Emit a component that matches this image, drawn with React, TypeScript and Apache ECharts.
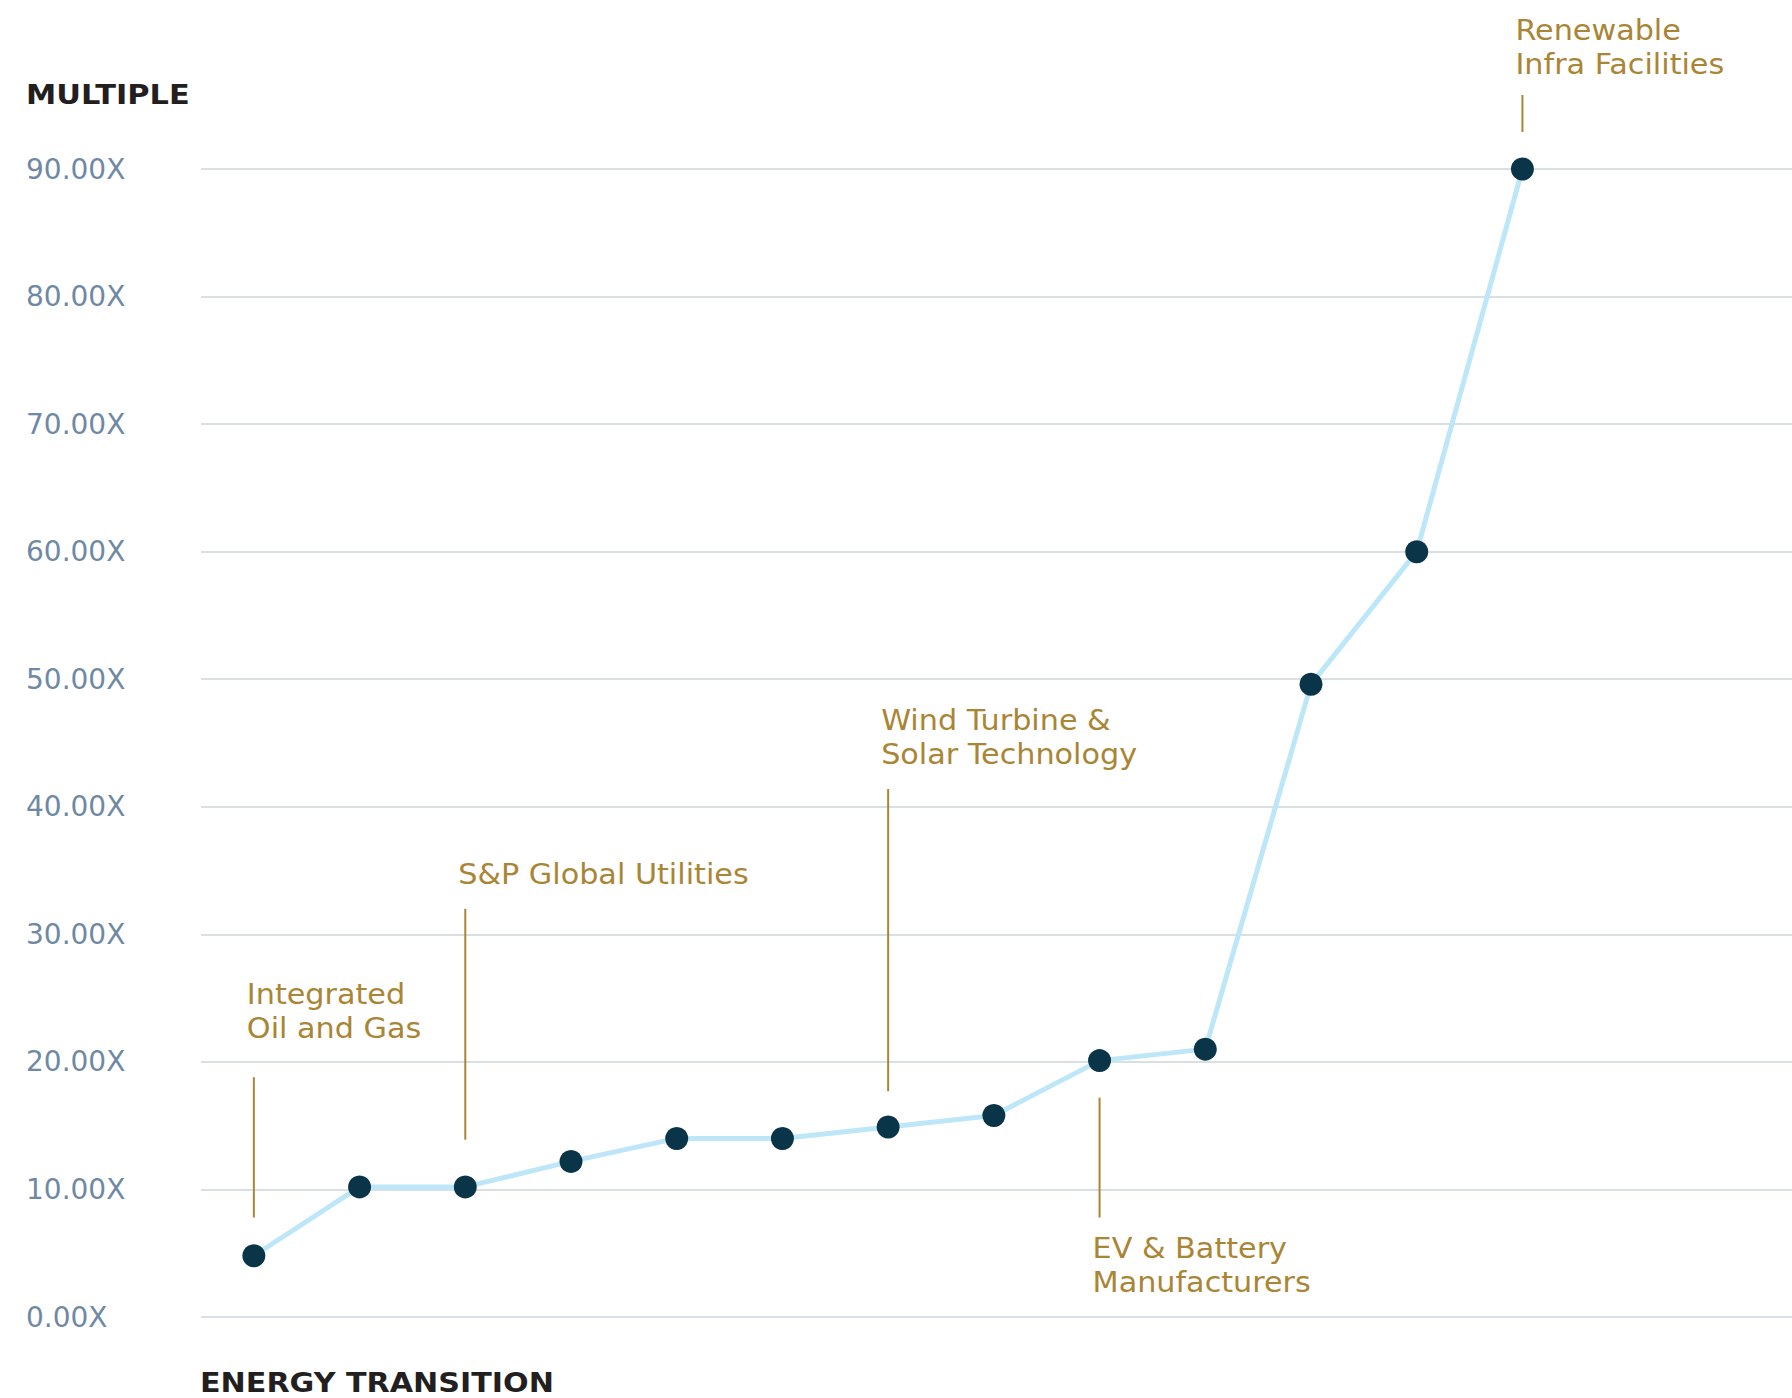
import React, { useEffect, useRef } from "react";
import * as echarts from "echarts";

const categories = [0, 1, 2, 3, 4, 5, 6, 7, 8, 9, 10, 11, 12];
const multiples = [4.8, 10.2, 10.2, 12.2, 14.0, 14.0, 14.9, 15.8, 20.1, 21.0, 49.6, 60.0, 90.0];
const xMin = -0.5;
const xMax = 14.55;
const yMin = 0;
const yMax = 90;
const yInterval = 10;

const annotationLabels = [
  "Integrated\nOil and Gas",
  "S&P Global Utilities",
  "Wind Turbine &\nSolar Technology",
  "EV & Battery\nManufacturers",
  "Renewable\nInfra Facilities",
];
const annotationIndex = [0, 2, 6, 8, 12];
const annotationLineFrom = [18.8, 32.0, 41.4, 17.2, 95.8];
const annotationLineTo = [7.8, 13.9, 17.7, 7.8, 92.9];
const annotationTextAt = [25.3, 34.7, 46.8, 5.4, 100.9];

const yAxisTitle = "MULTIPLE";
const xAxisTitle = "ENERGY TRANSITION";

const GOLD = "#a98535";
const FONT = "DejaVu Sans";

export default function App() {
  const ref = useRef<HTMLDivElement>(null);

  useEffect(() => {
    if (!ref.current) return;
    const chart = echarts.init(ref.current, undefined, { renderer: "svg" });
    const option: any = {
      animation: false,
      backgroundColor: "#ffffff",
      grid: { left: 201, right: 0, top: 169, bottom: 81 },
      xAxis: {
        type: "value",
        min: xMin,
        max: xMax,
        axisLine: { show: false },
        axisTick: { show: false },
        axisLabel: { show: false },
        splitLine: { show: false },
      },
      yAxis: {
        type: "value",
        min: yMin,
        max: yMax,
        interval: yInterval,
        axisLine: { show: false },
        axisTick: { show: false },
        axisLabel: {
          align: "left",
          margin: 175,
          color: "#6f89a4",
          fontFamily: FONT,
          fontSize: 28,
          formatter: (v: number) => v.toFixed(2) + "X",
        },
        splitLine: { lineStyle: { color: "#ccd5df", width: 1.5 } },
      },
      series: [
        {
          type: "line",
          data: categories.map((c, i) => [c, multiples[i]]),
          symbol: "circle",
          symbolSize: 23,
          lineStyle: { color: "#bde7f9", width: 5 },
          itemStyle: { color: "#0a3549" },
          z: 3,
        },
      ],
    };
    chart.setOption(option);

    const graphics: any[] = [];
    annotationLabels.forEach((label, i) => {
      const idx = categories[annotationIndex[i]];
      const p1 = chart.convertToPixel({ gridIndex: 0 }, [idx, annotationLineFrom[i]]) as number[];
      const p2 = chart.convertToPixel({ gridIndex: 0 }, [idx, annotationLineTo[i]]) as number[];
      const pt = chart.convertToPixel({ gridIndex: 0 }, [idx, annotationTextAt[i]]) as number[];
      graphics.push({
        type: "line",
        shape: { x1: p1[0], y1: p1[1], x2: p2[0], y2: p2[1] },
        style: { stroke: GOLD, lineWidth: 2 },
        z: 10,
      });
      graphics.push({
        type: "text",
        x: pt[0] - 7,
        y: pt[1] - 17,
        scaleX: 1.08,
        style: {
          text: label,
          fill: GOLD,
          fontFamily: FONT,
          fontSize: 28,
          lineHeight: 34,
          align: "left",
          verticalAlign: "top",
        },
        z: 10,
      });
    });
    graphics.push({
      type: "text",
      x: 26,
      y: 95,
      scaleX: 1.17,
      style: {
        text: yAxisTitle,
        fill: "#231f20",
        fontFamily: FONT,
        fontWeight: "bold",
        fontSize: 26,
        align: "left",
        verticalAlign: "middle",
      },
    });
    graphics.push({
      type: "text",
      x: 200,
      y: 1383,
      scaleX: 1.16,
      style: {
        text: xAxisTitle,
        fill: "#231f20",
        fontFamily: FONT,
        fontWeight: "bold",
        fontSize: 26,
        align: "left",
        verticalAlign: "middle",
      },
    });
    chart.setOption({ graphic: graphics });

    return () => chart.dispose();
  }, []);

  return (
    <div
      ref={ref}
      style={{ position: "absolute", left: 0, top: 0, width: 1792, height: 1398, overflow: "hidden" }}
    />
  );
}
